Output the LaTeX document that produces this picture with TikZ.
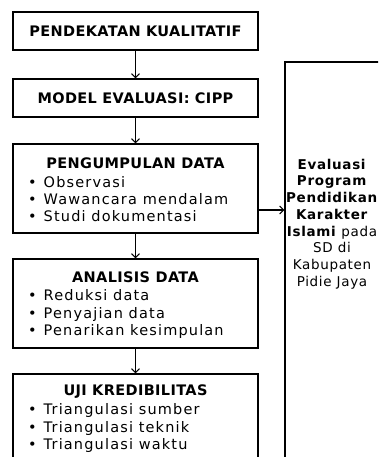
\documentclass[tikz,border=0pt]{standalone}
\usepackage{fontspec}
\usetikzlibrary{arrows.meta}
\setmainfont{DejaVu Sans}
\newfontfamily\headfont[LetterSpace=2.5]{DejaVu Sans}
\newfontfamily\itemfont[LetterSpace=8]{DejaVu Sans}
\newfontfamily\sidefont[LetterSpace=5]{DejaVu Sans}
\begin{document}
\begin{tikzpicture}[x=1pt,y=-1pt,
  box/.style={draw,line width=1.1pt,minimum width=245pt,inner sep=0pt},
  head/.style={font=\headfont\bfseries\fontsize{14.5}{16}\selectfont},
  items/.style={anchor=west,align=left,inner sep=0pt,font=\itemfont\fontsize{14.5}{17.2}\selectfont},
  flow/.style={-{Straight Barb[length=4pt,width=8pt]},line width=1.1pt}]

\useasboundingbox (0,0) rectangle (378,457);
\clip (0,0) rectangle (378,457);

\node[box,minimum height=38pt,head] (K) at (135.5,31) {PENDEKATAN KUALITATIF};
\node[box,minimum height=38pt,head] (M) at (135.5,98) {MODEL EVALUASI: CIPP};

\node[box,minimum height=89pt] (P) at (135.5,188.5) {};
\node[head] (Ph) at (135.5,163) {PENGUMPULAN DATA};
\node[items] (Pl) at (28,199) {\textbullet\hspace{7pt}Observasi\\\textbullet\hspace{7pt}Wawancara mendalam\\\textbullet\hspace{7pt}Studi dokumentasi};

\node[box,minimum height=89pt] (A) at (135.5,303.5) {};
\node[head] (Ah) at (135.5,277) {ANALISIS DATA};
\node[items] (Al) at (28,314) {\textbullet\hspace{7pt}Reduksi data\\\textbullet\hspace{7pt}Penyajian data\\\textbullet\hspace{7pt}Penarikan kesimpulan};

\node[box,minimum height=89pt] (U) at (135.5,418.5) {};
\node[head] (Uh) at (135.5,392) {UJI KREDIBILITAS};
\node[items] (Ul) at (28,428) {\textbullet\hspace{7pt}Triangulasi sumber\\\textbullet\hspace{7pt}Triangulasi teknik\\\textbullet\hspace{7pt}Triangulasi waktu};

% hasil evaluasi
\node[draw,line width=1.1pt,minimum width=120pt,minimum height=410pt] (R) at (345,267) {};
\node[align=center,font=\sidefont\fontsize{13.5}{16.7}\selectfont] (Rt) at (332,224) {\textbf{Evaluasi}\\\textbf{Program}\\\textbf{Pendidikan}\\\textbf{Karakter}\\\textbf{Islami} pada\\SD di\\Kabupaten\\Pidie Jaya};

\draw[flow] (K) -- (M);
\draw[flow] (M) -- (P);
\draw[flow] (P) -- (A);
\draw[flow] (A) -- (U);
\coordinate (p1) at ([yshift=-21.5pt]P.east);
\draw[flow] (p1) -- (p1 -| R.west);

\end{tikzpicture}
\end{document}
